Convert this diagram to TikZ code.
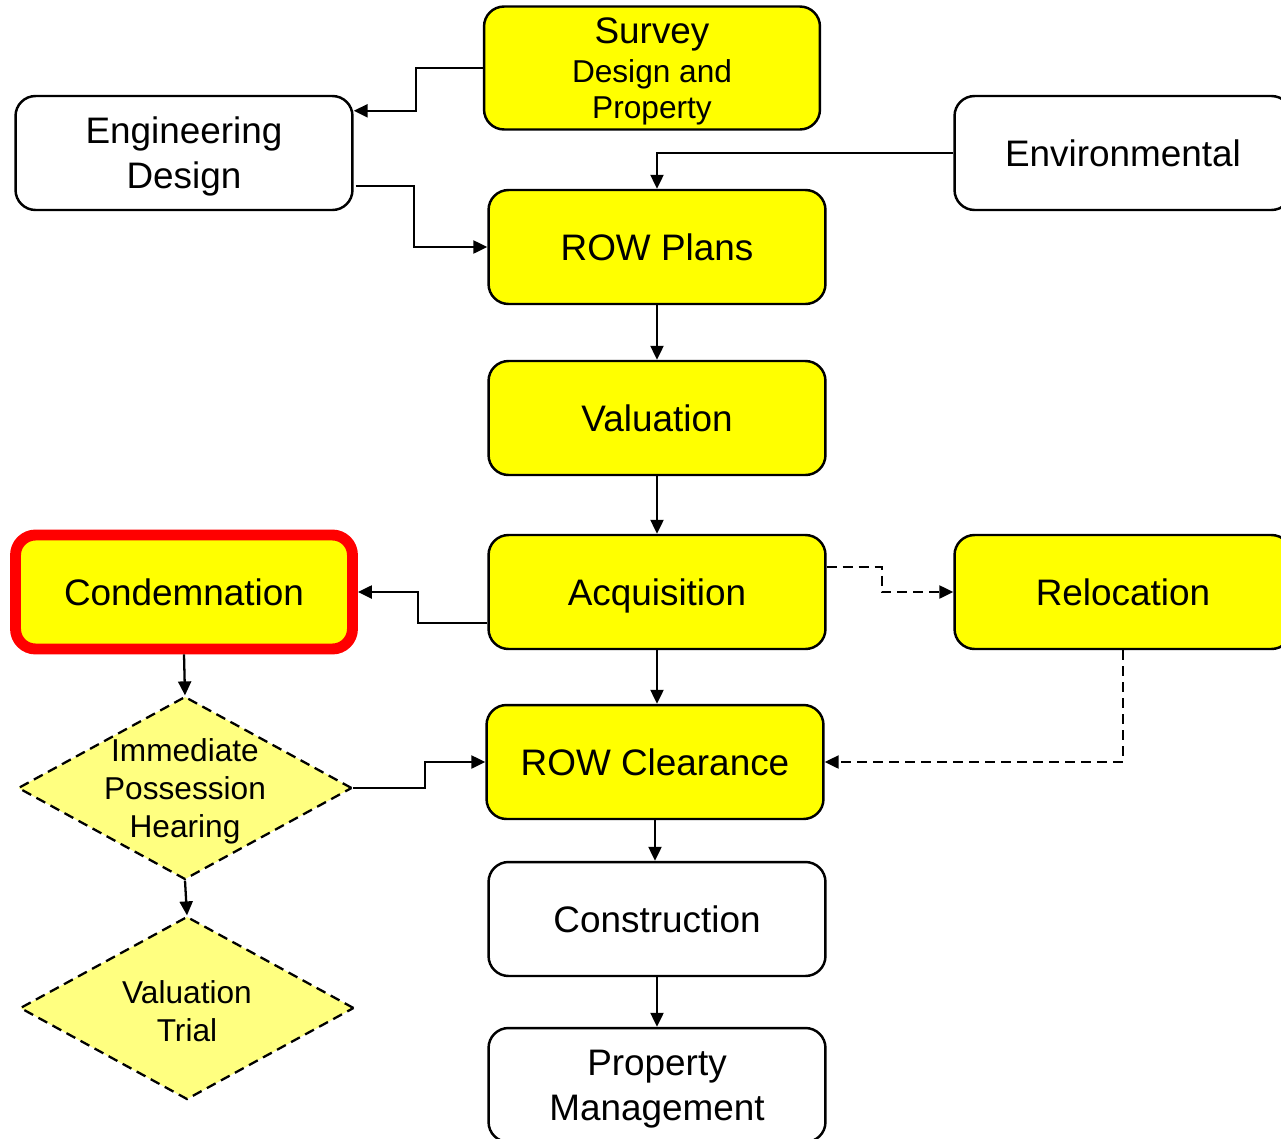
\documentclass[tikz,border=0pt]{standalone}
\usepackage{fontspec}
\setmainfont{Liberation Sans}
\usepackage{tikz}
\usetikzlibrary{arrows.meta, shapes.geometric, positioning, calc}
\definecolor{stepyellow}{RGB}{255,255,0}
\definecolor{palesyellow}{RGB}{255,255,128}
\definecolor{alertred}{RGB}{255,0,0}

\begin{document}
\begin{tikzpicture}[
        x=0.02cm, y=-0.02cm,
        box/.style={rectangle, rounded corners=0.4cm, draw=black, line width=1.4pt, minimum width=6.74cm, minimum height=2.28cm, align=center, font=\fontsize{21}{25.5}\selectfont, inner sep=2pt},
        active/.style={box, fill=stepyellow},
        decision/.style={diamond, draw=black, fill=palesyellow, line width=1.3pt, dash pattern=on 0.2cm off 0.12cm, minimum width=6.68cm, minimum height=3.66cm, inner sep=0pt},
        dfont/.style={align=center, font=\fontsize{18}{21.6}\selectfont, yshift=-0.06cm},
        arr/.style={-{Triangle[length=0.28cm, width=0.26cm]}, line width=1.3pt},
        darr/.style={arr, dash pattern=on 0.2cm off 0.12cm}
    ]
        \useasboundingbox (0,0) rectangle (1281,1139);

        % Main column
        \node[active, minimum width=6.72cm, minimum height=2.46cm, text depth=-3pt] (survey) at (652,68)
            {Survey\\[-3pt]\fontsize{18}{21}\selectfont Design and\\[-5pt]\fontsize{18}{21}\selectfont Property};
        \node[active]  (rowplans) at (657,247)  {ROW Plans};
        \node[active]  (valuation) at (657,418) {Valuation};
        \node[active, text depth=0pt]  (acq) at (657,592) {Acquisition};
        \node[active]  (rowclr) at (655,762)    {ROW Clearance};
        \node[box]     (constr) at (657,919)    {Construction};
        \node[box, text depth=0pt] (propmgmt) at (657,1085) {Property\\Management};

        % Side boxes
        \node[box, text depth=0pt] (eng) at (184,153) {Engineering\\Design};
        \node[box]     (env) at (1123,153)   {Environmental};
        \node[active]  (reloc) at (1123,592) {Relocation};
        \node[active, draw=alertred, line width=6.2pt] (cond) at (184,592) {Condemnation};

        % Court steps
        \node[decision, label={[dfont]center:Immediate\\Possession\\Hearing}] (iph) at (185,788) {};
        \node[decision, label={[dfont]center:Valuation\\Trial}] (trial) at (187,1008) {};

        % Arrows
        \draw[arr] (survey.west) -- ++(-67,0) |- ($(eng.north east)+(0,16)$);
        \draw[arr] ($(eng.south east)+(2,-25)$) -- ++(58,0) |- (rowplans.west);
        \draw[arr] (env.west) -| (rowplans.north);
        \draw[arr] (rowplans) -- (valuation);
        \draw[arr] (valuation) -- (acq);
        \draw[arr] (acq.south) -- (acq.south |- rowclr.north);
        \draw[arr] (rowclr.south) -- (rowclr.south |- constr.north);
        \draw[arr] (constr) -- (propmgmt);
        \draw[arr] ($(acq.south west)+(0,-27)$) -- ++(-69,0) |- (cond.east);
        \draw[darr] ($(acq.north east)+(0,33)$) -- ++(55,0) |- (reloc.west);
        \draw[darr] (reloc.south) |- (rowclr.east);
        \draw[arr] (cond.south) -- (iph.north);
        \draw[arr] (iph.east) -- ++(72,0) |- (rowclr.west);
        \draw[arr] (iph.south) -- (trial.north);
    \end{tikzpicture}
\end{document}
